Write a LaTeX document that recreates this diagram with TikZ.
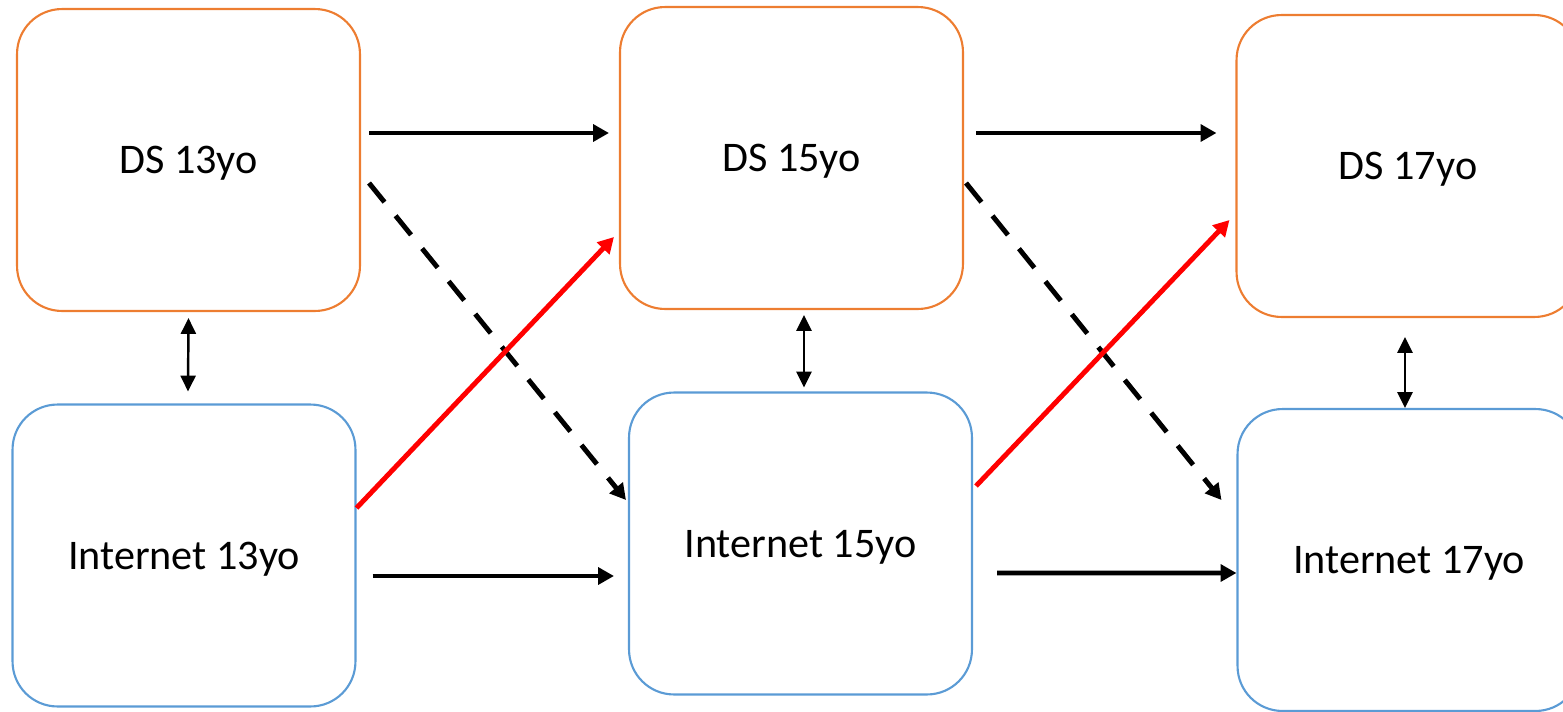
\documentclass[tikz,border=0pt]{standalone}
\usepackage{fontspec}
\setmainfont{Carlito}
\usetikzlibrary{arrows.meta,calc}

\definecolor{dsOrange}{HTML}{ED7D31}
\definecolor{netBlue}{HTML}{5B9BD5}

\begin{document}
\begin{tikzpicture}[x=0.02cm,y=-0.02cm,
    ageBox/.style = {draw,line width=1.2pt,rounded corners=0.9cm,minimum width=6.86cm,minimum height=6.04cm,align=center,text depth=0pt,font=\fontsize{24}{28}\selectfont},
    dsBox/.style = {ageBox,draw=dsOrange},
    netBox/.style = {ageBox,draw=netBlue},
    flow/.style = {line width=2.8pt,-{Triangle[length=9pt,width=9.5pt]}},
    crossFlow/.style = {flow,dash pattern=on 14pt off 10pt},
    pushFlow/.style = {flow,red},
    linkFlow/.style = {line width=1.4pt,{Triangle[length=9pt,width=8.5pt]}-{Triangle[length=9pt,width=8.5pt]}}]
    \clip (0,0) rectangle (1563,711);

    \node[dsBox](ds13) at (188.5,160) {DS 13yo};
    \node[dsBox](ds15) at (791.5,158) {DS 15yo};
    \node[dsBox](ds17) at (1408,166) {DS 17yo};
    \node[netBox](internet13) at (184,555.5) {Internet 13yo};
    \node[netBox](internet15) at (800.5,543.5) {Internet 15yo};
    \node[netBox](internet17) at (1409,560) {Internet 17yo};

    % straight on in time
    \draw [flow] ($(ds13.east)+(8,-27)$) -- ($(ds15.west)+(-10,-25)$);
    \draw [flow] ($(ds15.east)+(12,-25)$) -- ($(ds17.west)+(-19,-33)$);
    \draw [flow] ($(internet13.east)+(16,20.5)$) -- ($(internet15.west)+(-14,32.5)$);
    \draw [flow] ($(internet15.east)+(24,29.5)$) -- ($(internet17.west)+(0,13)$);

    % DS down to internet, dashed
    \draw [crossFlow] ($(ds13.east)+(8,23)$) -- ($(internet15.west)+(-2,-43.5)$);
    \draw [crossFlow] ($(ds15.east)+(2,25)$) -- ($(internet17.west)+(-15,-60)$);

    % internet up to DS, red
    \draw [pushFlow] ($(internet13.east)+(0,-47.5)$) -- ($(ds15.west)+(-5,79)$);
    \draw [pushFlow] ($(internet15.east)+(3,-57.5)$) -- ($(ds17.west)+(-6,54)$);

    % same age links
    \draw [linkFlow] ($(ds13.south)+(0,6)$) -- ($(internet13.north)+(4,-12)$);
    \draw [linkFlow] ($(ds15.south)+(12.5,5)$) -- ($(internet15.north)+(3.5,-4)$);
    \draw [linkFlow] ($(ds17.south)+(-3,19)$) -- ($(internet17.north)+(-4,0)$);
\end{tikzpicture}
\end{document}
